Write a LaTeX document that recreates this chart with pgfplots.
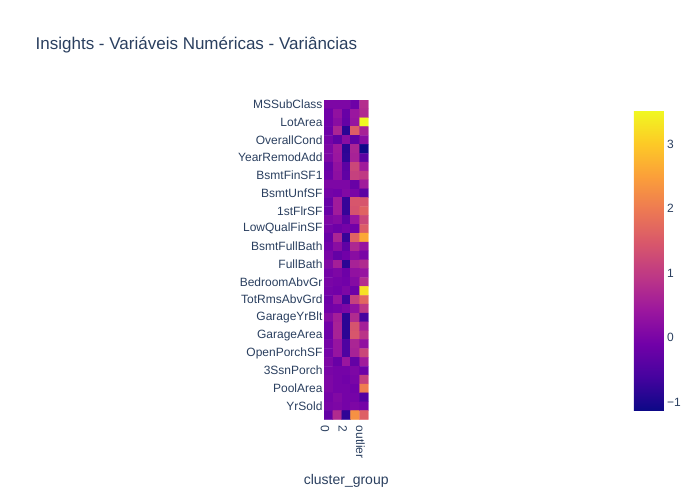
\documentclass[border=0pt]{standalone}
\usepackage{pgfplots}
\pgfplotsset{compat=1.18}
\usepackage{fontspec}
\setmainfont{Liberation Sans}
\definecolor{ptext}{HTML}{2A3F5F}
\pgfplotsset{colormap={plasma}{rgb255=(13,8,135) rgb255=(70,3,159) rgb255=(114,1,168) rgb255=(156,23,158) rgb255=(189,55,134) rgb255=(216,87,107) rgb255=(237,121,83) rgb255=(251,159,58) rgb255=(253,202,38) rgb255=(240,249,33)}}
\begin{document}
\begin{tikzpicture}
\useasboundingbox (0,0) rectangle (700bp,500bp);
\node[anchor=base west, text=ptext, inner sep=0pt, font=\fontsize{17bp}{20bp}\selectfont] at (35.5bp,450bp) {Insights - Variáveis Numéricas - Variâncias};
\node[anchor=base, text=ptext, inner sep=0pt, font=\fontsize{14bp}{17bp}\selectfont] at (346.2bp,16bp) {cluster\_group};
\begin{axis}[
  at={(324bp,80.5bp)}, anchor=south west,
  scale only axis, width=44.4bp, height=319.5bp,
  colormap name=plasma,
  point meta min=-1.12, point meta max=3.53,
  xmin=-0.5, xmax=4.5, ymin=-0.5, ymax=35.5,
  enlargelimits=false,
  y dir=reverse,
  axis line style={draw=none},
  major tick length=0pt,
  tick style={draw=none},
  xtick={0,2,4}, xticklabels={0,2,outlier},
  ytick={0,2,...,34},
  yticklabels={MSSubClass,LotArea,OverallCond,YearRemodAdd,BsmtFinSF1,BsmtUnfSF,1stFlrSF,LowQualFinSF,BsmtFullBath,FullBath,BedroomAbvGr,TotRmsAbvGrd,GarageYrBlt,GarageArea,OpenPorchSF,3SsnPorch,PoolArea,YrSold},
  yticklabel style={font=\fontsize{12bp}{14bp}\selectfont, text=ptext, inner sep=0pt, anchor=east, xshift=-1.3bp},
  xticklabel style={font=\fontsize{12bp}{14bp}\selectfont, text=ptext, inner sep=0pt, xshift=-3.5bp, yshift=-6bp, rotate=-90, anchor=west},
  colorbar,
  colorbar/width=30bp,
  colorbar style={
    at={(6.982,0.0297)}, anchor=south west,
    scale only axis, width=30bp, height=300bp,
    axis line style={draw=none},
    major tick length=0pt, tick style={draw=none},
    ytick={-1,0,1,2,3}, yticklabels={−1,0,1,2,3},
    yticklabel style={font=\fontsize{12bp}{14bp}\selectfont, text=ptext, inner sep=0pt, anchor=west, xshift=3bp},
  },
]
\addplot[matrix plot*, mesh/cols=5, point meta=explicit] table[meta=z, row sep=\\] {
x y z\\
0 0 0.05\\ 1 0 0.05\\ 2 0 0.05\\ 3 0 -0.15\\ 4 0 0.80\\
0 1 -0.10\\ 1 1 0.30\\ 2 1 -0.20\\ 3 1 0.40\\ 4 1 0.75\\
0 2 -0.10\\ 1 2 0.20\\ 2 2 -0.25\\ 3 2 0.35\\ 4 2 3.53\\
0 3 -0.15\\ 1 3 0.65\\ 2 3 -0.85\\ 3 3 1.55\\ 4 3 0.60\\
0 4 -0.05\\ 1 4 -0.30\\ 2 4 0.20\\ 3 4 -0.30\\ 4 4 0.20\\
0 5 0.05\\ 1 5 0.45\\ 2 5 -0.85\\ 3 5 0.65\\ 4 5 -1.10\\
0 6 0.05\\ 1 6 0.40\\ 2 6 -0.80\\ 3 6 0.60\\ 4 6 -0.35\\
0 7 -0.20\\ 1 7 0.30\\ 2 7 -0.35\\ 3 7 1.20\\ 4 7 0.50\\
0 8 -0.15\\ 1 8 0.25\\ 2 8 -0.30\\ 3 8 1.10\\ 4 8 1.00\\
0 9 0.05\\ 1 9 0.05\\ 2 9 0.05\\ 3 9 -0.20\\ 4 9 0.50\\
0 10 -0.05\\ 1 10 -0.10\\ 2 10 0.10\\ 3 10 0.00\\ 4 10 -0.35\\
0 11 -0.20\\ 1 11 0.50\\ 2 11 -0.75\\ 3 11 1.45\\ 4 11 1.45\\
0 12 -0.20\\ 1 12 0.50\\ 2 12 -0.75\\ 3 12 1.40\\ 4 12 1.65\\
0 13 0.05\\ 1 13 0.15\\ 2 13 -0.35\\ 3 13 0.40\\ 4 13 1.20\\
0 14 -0.05\\ 1 14 -0.15\\ 2 14 -0.05\\ 3 14 -0.10\\ 4 14 1.55\\
0 15 -0.20\\ 1 15 0.65\\ 2 15 -0.75\\ 3 15 1.65\\ 4 15 2.60\\
0 16 -0.10\\ 1 16 0.20\\ 2 16 -0.30\\ 3 16 0.70\\ 4 16 0.35\\
0 17 0.00\\ 1 17 -0.25\\ 2 17 -0.10\\ 3 17 0.20\\ 4 17 0.00\\
0 18 0.10\\ 1 18 0.55\\ 2 18 -0.85\\ 3 18 0.60\\ 4 18 0.75\\
0 19 -0.05\\ 1 19 0.05\\ 2 19 -0.15\\ 3 19 0.30\\ 4 19 0.35\\
0 20 0.00\\ 1 20 -0.05\\ 2 20 -0.10\\ 3 20 0.15\\ 4 20 0.80\\
0 21 -0.05\\ 1 21 -0.10\\ 2 21 0.05\\ 3 21 -0.15\\ 4 21 3.25\\
0 22 -0.15\\ 1 22 0.35\\ 2 22 -0.65\\ 3 22 1.10\\ 4 22 1.70\\
0 23 -0.10\\ 1 23 -0.05\\ 2 23 0.05\\ 3 23 0.30\\ 4 23 0.95\\
0 24 0.15\\ 1 24 0.55\\ 2 24 -0.85\\ 3 24 0.75\\ 4 24 -0.60\\
0 25 -0.10\\ 1 25 0.60\\ 2 25 -0.85\\ 3 25 1.40\\ 4 25 0.55\\
0 26 -0.15\\ 1 26 0.60\\ 2 26 -0.85\\ 3 26 1.45\\ 4 26 0.90\\
0 27 -0.05\\ 1 27 0.35\\ 2 27 -0.50\\ 3 27 0.65\\ 4 27 0.30\\
0 28 -0.05\\ 1 28 0.35\\ 2 28 -0.50\\ 3 28 0.60\\ 4 28 1.20\\
0 29 0.05\\ 1 29 -0.20\\ 2 29 0.40\\ 3 29 -0.25\\ 4 29 0.50\\
0 30 0.00\\ 1 30 -0.05\\ 2 30 -0.05\\ 3 30 0.05\\ 4 30 -0.15\\
0 31 0.05\\ 1 31 -0.05\\ 2 31 -0.10\\ 3 31 0.00\\ 4 31 1.10\\
0 32 0.05\\ 1 32 -0.05\\ 2 32 -0.05\\ 3 32 -0.10\\ 4 32 2.05\\
0 33 -0.05\\ 1 33 0.10\\ 2 33 -0.05\\ 3 33 -0.05\\ 4 33 -0.45\\
0 34 0.00\\ 1 34 0.05\\ 2 34 -0.05\\ 3 34 0.05\\ 4 34 -0.05\\
0 35 -0.25\\ 1 35 0.75\\ 2 35 -0.80\\ 3 35 2.30\\ 4 35 1.60\\
};
\end{axis}
\end{tikzpicture}
\end{document}
